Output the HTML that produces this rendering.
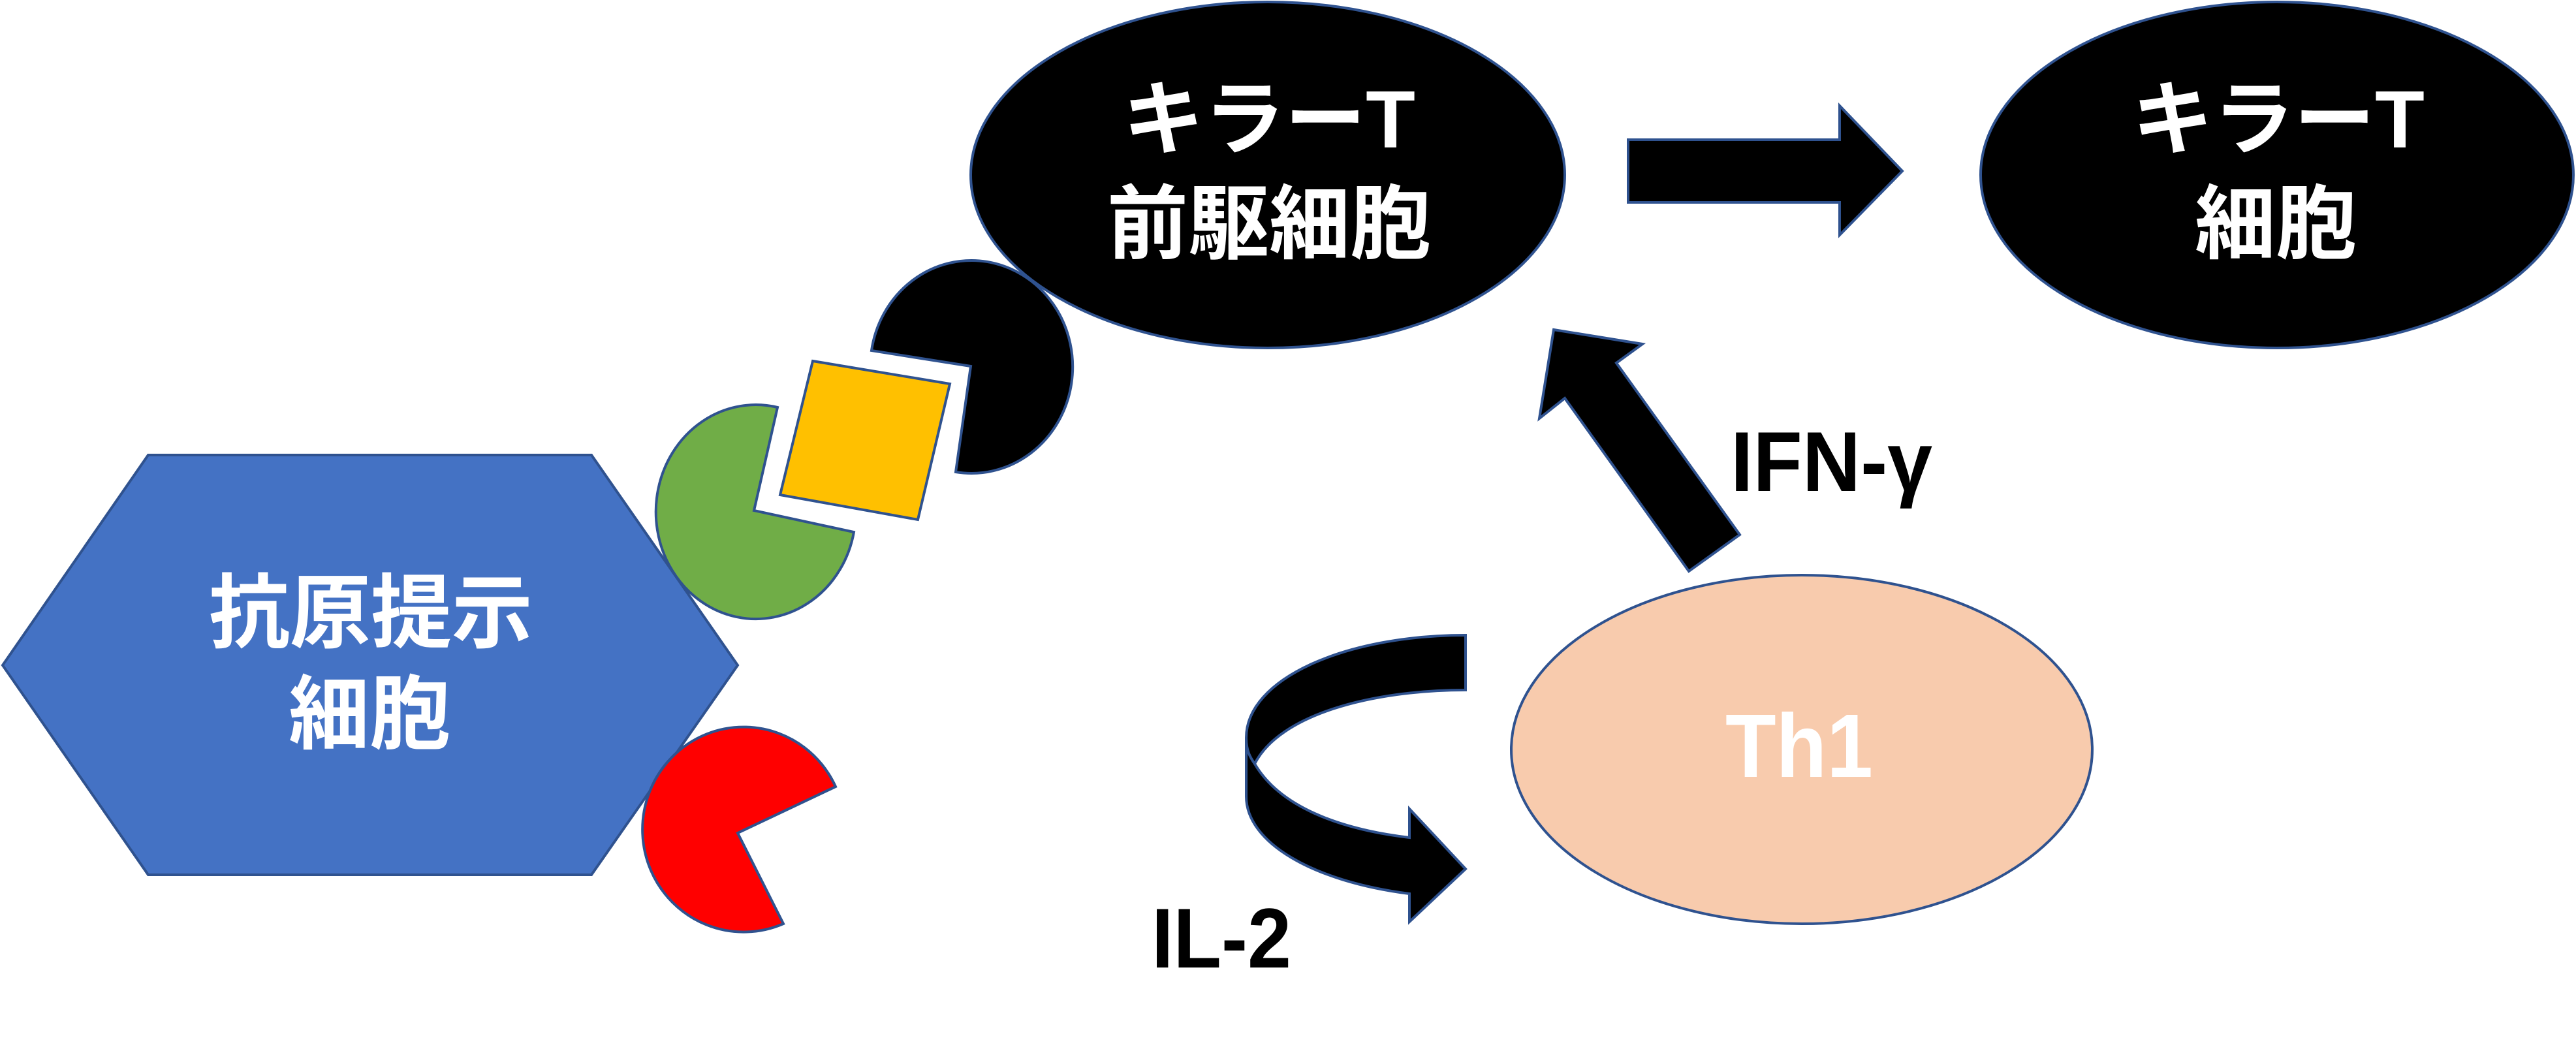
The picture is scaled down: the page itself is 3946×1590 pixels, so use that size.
<!DOCTYPE html>
<html><head><meta charset="utf-8"><style>
html,body{margin:0;padding:0;background:#fff;}
svg{display:block;}
.jp{font-family:"Liberation Sans","Noto Sans CJK JP",sans-serif;font-weight:bold;}
</style></head><body>
<svg width="3946" height="1590" viewBox="0 0 3946 1590" xmlns="http://www.w3.org/2000/svg">
<g stroke="#2F528F" stroke-width="4">
<polygon points="4,1019 227,697 906,697 1130,1019 906,1340 227,1340" fill="#4472C4"/>
<path d="M1155,782 L1191,624 A153,164 0 1 0 1308,815 Z" fill="#70AD47"/>
<path d="M1130,1276 L1280,1205 A155,157 0 1 0 1200,1415 Z" fill="#FF0000"/>
<polygon points="1245,553 1455,588 1406,796 1195,758" fill="#FFC000"/>
<ellipse cx="1942" cy="268" rx="455" ry="265" fill="#000"/>
<path d="M1487,561 L1335,537 A155,163 0 1 1 1464,723 Z" fill="#000"/>
<ellipse cx="3488" cy="268" rx="454" ry="265" fill="#000"/>
<polygon points="2494,214 2818,214 2818,162 2914,262 2818,360 2818,310 2494,310" fill="#000"/>
<ellipse cx="2760" cy="1148" rx="445" ry="267" fill="#F8CBAD"/>
<polygon points="2380,505 2516,527 2476,556 2665,819 2587,875 2397,610 2358,641" fill="#000"/>
<path d="M2245,973 L2245,1057 C2100,1057 1960,1095 1922,1170 C1960,1235 2050,1270 2159,1283 L2159,1239 L2245,1331 L2159,1412 L2159,1369 C2010,1350 1909,1290 1909,1220 L1909,1130 C1909,1040 2060,973 2245,973 Z" fill="#000"/>
<path d="M1909,1130 C1909,1150 1915,1160 1922,1170" fill="none"/>
</g>
<g class="jp" fill="#fff" font-size="124" text-anchor="middle">
<text x="568" y="982">抗原提示</text>
<text x="566" y="1137">細胞</text>
<text x="1944" y="226">キラーT</text>
<text x="1944" y="386">前駆細胞</text>
<text x="3490" y="226">キラーT</text>
<text x="3486" y="386">細胞</text>
</g>
<text x="2643" y="1190" font-family="Liberation Sans,sans-serif" font-weight="bold" font-size="138" fill="#fff" textLength="226" lengthAdjust="spacingAndGlyphs">Th1</text>
<text x="2651" y="752" font-family="Liberation Sans,sans-serif" font-weight="bold" font-size="130" fill="#000" textLength="309" lengthAdjust="spacingAndGlyphs">IFN-γ</text>
<text x="1764" y="1482" font-family="Liberation Sans,sans-serif" font-weight="bold" font-size="130" fill="#000" textLength="214" lengthAdjust="spacingAndGlyphs">IL-2</text>
</svg>
</body></html>
